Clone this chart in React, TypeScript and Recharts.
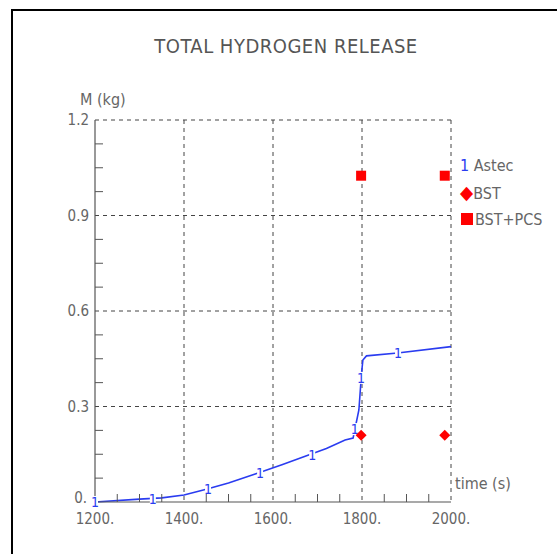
import { ComposedChart, Line, Scatter, XAxis, YAxis, CartesianGrid } from 'recharts';

// Astec curve (time s, M kg)
const astecTime = [1200, 1300, 1350, 1400, 1450, 1500, 1560, 1620, 1680, 1720, 1762, 1780, 1793, 1799, 1802, 1810, 1880, 2000];
const astecMass = [0.0, 0.009, 0.013, 0.022, 0.04, 0.06, 0.088, 0.117, 0.148, 0.168, 0.195, 0.201, 0.289, 0.405, 0.446, 0.459, 0.468, 0.488];

// curve labels "1" placed along the Astec line
const labelTime = [1200, 1330, 1454, 1571, 1688, 1784, 1798, 1881];
const labelMass = [0.0, 0.01, 0.04, 0.091, 0.148, 0.229, 0.39, 0.468];

const bstTime = [1798, 1986];
const bstMass = [0.21, 0.21];

const pcsTime = [1798, 1986];
const pcsMass = [1.025, 1.025];

const xTicks = [1200, 1250, 1300, 1350, 1400, 1450, 1500, 1550, 1600, 1650, 1700, 1750, 1800, 1850, 1900, 1950, 2000];
const xMajor = [1200, 1400, 1600, 1800, 2000];
const yTicks = [0, 0.075, 0.15, 0.225, 0.3, 0.375, 0.45, 0.525, 0.6, 0.675, 0.75, 0.825, 0.9, 0.975, 1.05, 1.125, 1.2];
const yMajor = [0, 0.3, 0.6, 0.9, 1.2];
const yLabels = ['0.', '0.3', '0.6', '0.9', '1.2'];

const astecData = astecTime.map((t, i) => ({ t, m: astecMass[i] }));
const labelData = labelTime.map((t, i) => ({ t, m: labelMass[i] }));
const bstData = bstTime.map((t, i) => ({ t, m: bstMass[i] }));
const pcsData = pcsTime.map((t, i) => ({ t, m: pcsMass[i] }));

const FONT = '"DejaVu Sans Condensed", "DejaVu Sans", sans-serif';
const GREY = '#666';
const BLUE = '#2a3cf0';
const RED = '#ff0000';

const XTick = (props: any) => {
  const { x, y, payload } = props;
  const major = xMajor.includes(payload.value);
  return (
    <g>
      {!major && <line x1={x} x2={x} y1={y} y2={y - 8} stroke="#555" strokeWidth={1} />}
      {major && (
        <text x={x} y={y + 22} textAnchor="middle" fill={GREY} fontSize={15} fontFamily={FONT}>
          {payload.value + '.'}
        </text>
      )}
    </g>
  );
};

const YTick = (props: any) => {
  const { x, y, payload } = props;
  const idx = yMajor.findIndex((v) => Math.abs(v - payload.value) < 1e-6);
  return (
    <g>
      {idx < 0 && <line x1={x} x2={x + 8} y1={y} y2={y} stroke="#555" strokeWidth={1} />}
      {idx >= 0 && (
        <text x={idx === 0 ? x - 8 : x - 6} y={idx === 0 ? y + 1 : y + 5} textAnchor="end" fill={GREY} fontSize={15} fontFamily={FONT}>
          {yLabels[idx]}
        </text>
      )}
    </g>
  );
};

const OneLabel = (props: any) => {
  const { cx, cy } = props;
  return (
    <g>
      <rect x={cx - 3} y={cy - 6} width={6} height={12} fill="#fff" />
      <text x={cx} y={cy + 5} textAnchor="middle" fill={BLUE} fontSize={14} fontFamily={FONT}>1</text>
    </g>
  );
};

const Diamond = (props: any) => {
  const { cx, cy } = props;
  const r = 5.5;
  return <polygon points={`${cx},${cy - r} ${cx + r},${cy} ${cx},${cy + r} ${cx - r},${cy}`} fill={RED} />;
};

const Square = (props: any) => {
  const { cx, cy } = props;
  return <rect x={cx - 5} y={cy - 5} width={10} height={10} fill={RED} />;
};

const legendText = { position: 'absolute' as const, fontFamily: FONT, fontSize: 16, color: GREY, lineHeight: '20px' };

export default function App() {
  return (
    <div style={{ position: 'absolute', left: 0, top: 0, width: 557, height: 554, background: '#fff', overflow: 'hidden' }}>
      <div style={{ position: 'absolute', left: 11, top: 9, width: 560, height: 560, borderLeft: '2.5px solid #000', borderTop: '2.5px solid #000' }} />
      <div style={{ position: 'absolute', left: 0, width: 572, top: 34, textAlign: 'center', fontFamily: FONT, fontSize: 20, color: '#555', letterSpacing: 0.5 }}>
        TOTAL HYDROGEN RELEASE
      </div>
      <div style={{ ...legendText, left: 80, top: 90 }}>M (kg)</div>
      <div style={{ ...legendText, left: 455, top: 474 }}>time (s)</div>

      <div style={{ ...legendText, left: 460, top: 156 }}>
        <span style={{ color: BLUE }}>1</span> Astec
      </div>
      <div style={{ ...legendText, left: 460, top: 182 }}>
        <span style={{ color: RED, fontSize: 19 }}>◆</span>BST
      </div>
      <div style={{ ...legendText, left: 461, top: 210 }}>
        <span style={{ display: 'inline-block', width: 12, height: 12, background: RED, marginRight: 2 }} />BST+PCS
      </div>

      <div style={{ position: 'absolute', left: 0, top: 0 }}>
        <ComposedChart width={557} height={554} margin={{ top: 120, right: 106, bottom: 51, left: 94 }}>
          <CartesianGrid
            stroke="#444"
            strokeDasharray="4 4"
            horizontalValues={[0.3, 0.6, 0.9, 1.2]}
            verticalValues={[1400, 1600, 1800, 2000]}
          />
          <XAxis
            type="number"
            dataKey="t"
            domain={[1200, 2000]}
            ticks={xTicks}
            interval={0}
            height={1}
            tickSize={0}
            tickMargin={0}
            tickLine={false}
            tick={<XTick />}
            axisLine={{ stroke: '#555', strokeWidth: 1.2 }}
            allowDuplicatedCategory={false}
          />
          <YAxis
            type="number"
            dataKey="m"
            domain={[0, 1.2]}
            ticks={yTicks}
            interval={0}
            width={1}
            tickSize={0}
            tickMargin={0}
            tickLine={false}
            tick={<YTick />}
            axisLine={{ stroke: '#555', strokeWidth: 1.2 }}
          />
          <Line data={astecData} dataKey="m" type="linear" stroke={BLUE} strokeWidth={1.6} dot={false} isAnimationActive={false} />
          <Scatter data={labelData} dataKey="m" shape={<OneLabel />} isAnimationActive={false} />
          <Scatter data={bstData} dataKey="m" shape={<Diamond />} isAnimationActive={false} />
          <Scatter data={pcsData} dataKey="m" shape={<Square />} isAnimationActive={false} />
        </ComposedChart>
      </div>
    </div>
  );
}
